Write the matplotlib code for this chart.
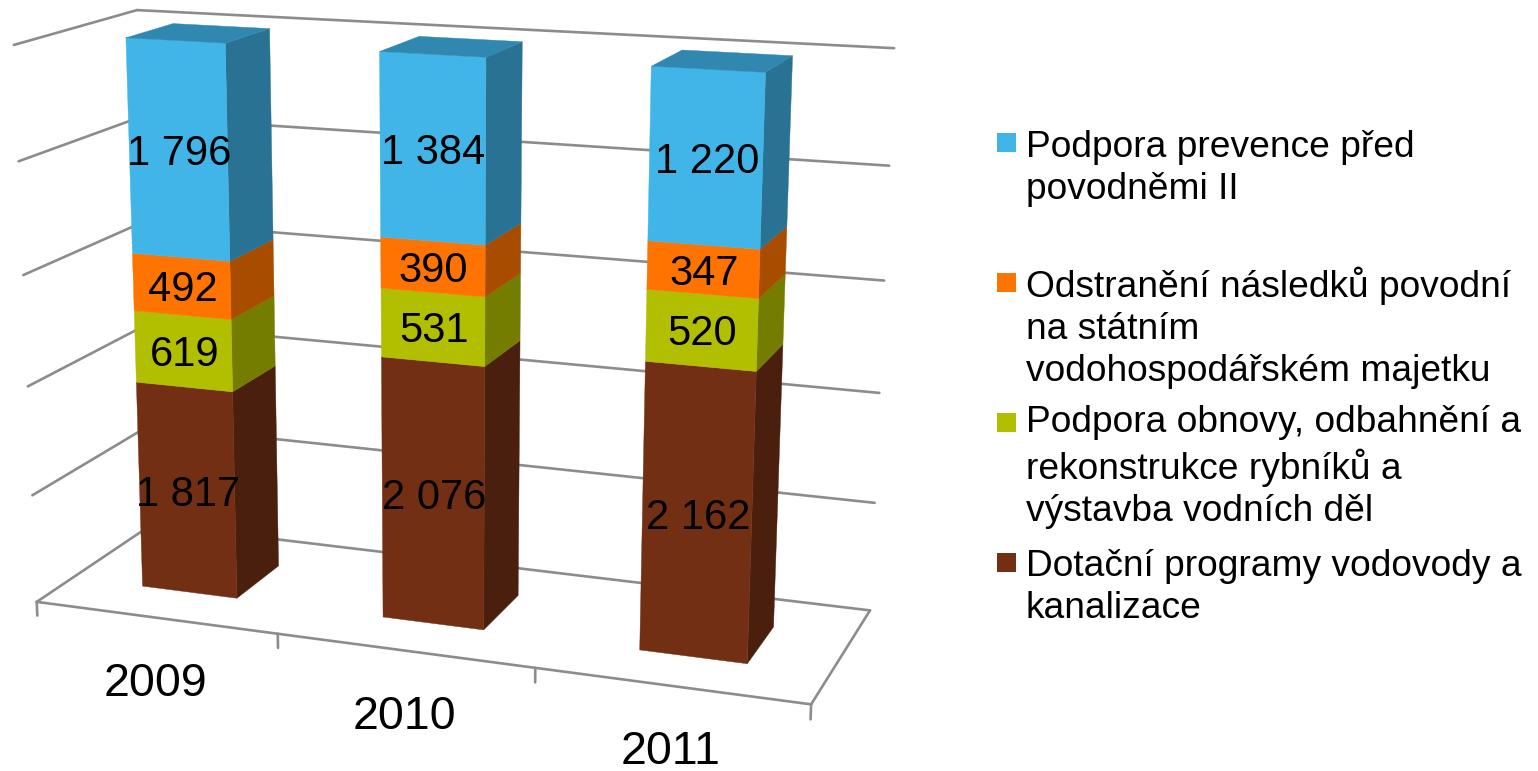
import numpy as np
import matplotlib
matplotlib.use("Agg")
import matplotlib.pyplot as plt
from matplotlib.patches import Polygon, Rectangle

plt.rcParams['font.family'] = ['Liberation Sans', 'DejaVu Sans']

years = ['2009', '2010', '2011']
dotacni = [1817, 2076, 2162]
obnova = [619, 531, 520]
nasledky = [492, 390, 347]
prevence = [1796, 1384, 1220]
series = [dotacni, obnova, nasledky, prevence]
z_ticks = [0, 20, 40, 60, 80, 100]
z_max = 100

front_colors = ['#722F14', '#B2BE00', '#FF7300', '#41B4E8']
side_colors = ['#4B1F0D', '#757D00', '#A84C00', '#2A7294']
top_colors = ['#5E2710', '#939D00', '#D35F00', '#3088B0']
grid_color = '#8C8C8C'

legend_labels = [
    'Podpora prevence před\npovodněmi II',
    'Odstranění následků povodní\nna státním\nvodohospodářském majetku',
    'Podpora obnovy, odbahnění a\nrekonstrukce rybníků a\nvýstavba vodních děl',
    'Dotační programy vodovody a\nkanalizace',
]
legend_colors = ['#41B4E8', '#FF7300', '#B2BE00', '#722F14']
legend_top = [133, 273, 413, 553]
legend_baseline = [199, 381, 521, 618]

# Calibration of the 3-D box (category, depth, percent) to picture pixels
calib = [
    ((0, 0, 0), (38, 601.5)), ((3, 0, 0), (811, 705)),
    ((3, 1, 0), (870, 609.5)), ((0, 1, 0), (151, 525)),
    ((0, 0, 100), (13, 45)), ((0, 1, 100), (138, 10)),
    ((3, 1, 100), (894, 48)), ((3, 1, 20), (875, 503)),
    ((0, 0, 20), (32, 495)), ((3, 1, 80), (889, 166)),
]
A, b = [], []
for (X, Y, Z), (u, v) in calib:
    Zs = Z / z_max
    A.append([X, Y, Zs, 1, 0, 0, 0, 0, -u * X, -u * Y, -u * Zs])
    b.append(u)
    A.append([0, 0, 0, 0, X, Y, Zs, 1, -v * X, -v * Y, -v * Zs])
    b.append(v)
m = np.linalg.lstsq(np.array(A, float), np.array(b, float), rcond=None)[0]
P = np.append(m, 1).reshape(3, 4)


def proj(x, y, z):
    p = P @ np.array([x, y, z / z_max, 1.0])
    return p[0] / p[2], p[1] / p[2]


fig = plt.figure(figsize=(15.38, 7.71), dpi=100)
ax = fig.add_axes([0, 0, 1, 1])
ax.set_xlim(0, 1538)
ax.set_ylim(771, 0)
ax.axis('off')

n = len(years)
lw = 1.9


def line(a, b):
    ax.plot(*zip(proj(*a), proj(*b)), color=grid_color, lw=lw, solid_capstyle='round', zorder=1)


for z in z_ticks:
    line((0, 0, z), (0, 1, z))
    line((0, 1, z), (n, 1, z))
line((0, 0, 0), (n, 0, 0))
line((n, 0, 0), (n, 1, 0))
for i in range(n + 1):
    line((i, 0, 0), (i, 0, -2.6))

bar_w = 0.40
y0, y1 = 0.30, 0.70

for i in range(n):
    x0, x1 = i + 0.5 - bar_w / 2, i + 0.5 + bar_w / 2
    total = sum(vals[i] for vals in series)
    acc = 0
    for s, vals in enumerate(series):
        base = acc / total * 100
        acc += vals[i]
        top = acc / total * 100
        ax.add_patch(Polygon([proj(x1, y0, base), proj(x1, y1, base), proj(x1, y1, top), proj(x1, y0, top)],
                             closed=True, fc=side_colors[s], ec=side_colors[s], lw=0.3, zorder=2))
        ax.add_patch(Polygon([proj(x0, y0, base), proj(x1, y0, base), proj(x1, y0, top), proj(x0, y0, top)],
                             closed=True, fc=front_colors[s], ec=front_colors[s], lw=0.3, zorder=3))
        if s == len(series) - 1:
            ax.add_patch(Polygon([proj(x0, y0, top), proj(x1, y0, top), proj(x1, y1, top), proj(x0, y1, top)],
                                 closed=True, fc=top_colors[s], ec=top_colors[s], lw=0.3, zorder=3))
        cx, cy = proj(i + 0.5, y0, (base + top) / 2)
        label = f'{vals[i]:,}'.replace(',', ' ')
        ax.text(cx + 1, cy + 4, label, fontsize=30, ha='center', va='center', color='black', zorder=5)
    tx, ty = proj(i + 0.5, 0, 0)
    ax.text(tx, ty + 66, years[i], fontsize=33.5, ha='center', va='center', color='black', zorder=5)

for lab, col, t, bl in zip(legend_labels, legend_colors, legend_top, legend_baseline):
    ax.add_patch(Rectangle((997, t), 19, 19, fc=col, ec='none', zorder=5))
    ax.text(1026, bl, lab, fontsize=26.7, ha='left', va='baseline', linespacing=1.265, color='black', zorder=5)

fig.savefig('out.png', dpi=100)
